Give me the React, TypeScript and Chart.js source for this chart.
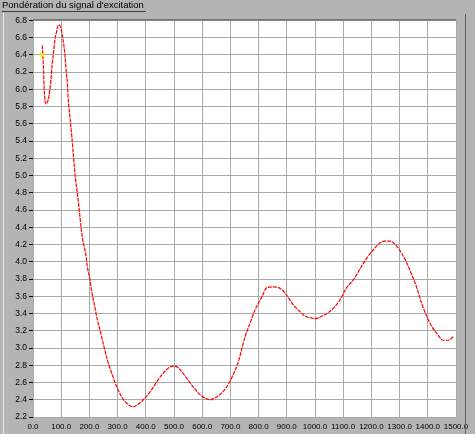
import { useEffect, useRef } from "react";
import { Chart, registerables } from "chart.js";

Chart.register(...registerables);

const TITLE = "Pondération du signal d'excitation";

// sample positions (x axis) and weighting values
const xs = [
  33, 37, 40, 46, 56, 63, 68, 73, 77, 83, 91, 100, 104, 109, 114, 118, 122, 125,
  130, 137, 143, 151, 157, 164, 170, 176, 186, 193, 202, 209, 219, 228, 240, 252,
  264, 279, 297, 315, 332, 344, 357, 370, 391, 415, 439, 462, 486, 504, 521, 545,
  568, 592, 616, 628, 639, 663, 687, 710, 728, 752, 770, 787, 811, 829, 852, 882,
  900, 923, 947, 971, 988, 1000, 1012, 1042, 1065, 1089, 1112, 1136, 1160, 1183,
  1207, 1231, 1248, 1266, 1290, 1307, 1325, 1343, 1361, 1378, 1396, 1414, 1432,
  1455, 1473, 1490,
];
const ys = [
  6.51, 6.25, 5.98, 5.83, 5.91, 6.09, 6.29, 6.43, 6.56, 6.66, 6.75, 6.7, 6.62,
  6.52, 6.37, 6.2, 6.06, 5.88, 5.71, 5.48, 5.24, 4.95, 4.8, 4.6, 4.41, 4.26, 4.11,
  3.94, 3.79, 3.64, 3.48, 3.33, 3.18, 3.01, 2.86, 2.71, 2.55, 2.43, 2.36, 2.33,
  2.32, 2.34, 2.4, 2.49, 2.61, 2.71, 2.78, 2.79, 2.75, 2.65, 2.55, 2.46, 2.41,
  2.4, 2.41, 2.46, 2.55, 2.69, 2.84, 3.13, 3.29, 3.44, 3.59, 3.7, 3.71, 3.68,
  3.61, 3.5, 3.42, 3.36, 3.35, 3.34, 3.35, 3.4, 3.46, 3.56, 3.7, 3.79, 3.92, 4.04,
  4.14, 4.22, 4.24, 4.24, 4.18, 4.1, 3.99, 3.85, 3.7, 3.52, 3.37, 3.25, 3.17,
  3.09, 3.09, 3.13,
];

// yellow cursor marker
const cursorX = [34];
const cursorY = [6.4];

const X_MIN = 0;
const X_MAX = 1500;
const X_STEP = 100;
const Y_MIN = 2.2;
const Y_MAX = 6.8;
const Y_STEP = 0.2;

const FONT = "'Liberation Sans', Arial, sans-serif";

const panelPlugin = {
  id: "panel",
  beforeDraw(chart: Chart) {
    const { ctx, chartArea, width, height } = chart;
    ctx.save();
    ctx.fillStyle = "#b4b4b4";
    ctx.fillRect(0, 0, width, height);
    ctx.fillStyle = "#ffffff";
    ctx.fillRect(
      chartArea.left,
      chartArea.top,
      chartArea.right - chartArea.left,
      chartArea.bottom - chartArea.top
    );
    ctx.restore();
  },
  afterDraw(chart: Chart) {
    const { ctx, chartArea, height } = chart;
    ctx.save();
    // title underline
    ctx.font = `9.5px ${FONT}`;
    const w = ctx.measureText(TITLE).width;
    ctx.strokeStyle = "#3c3c3c";
    ctx.lineWidth = 1;
    ctx.beginPath();
    ctx.moveTo(2, 11.5);
    ctx.lineTo(4 + w, 11.5);
    ctx.stroke();
    // light frame line on the left
    ctx.strokeStyle = "#e8e8e8";
    ctx.beginPath();
    ctx.moveTo(3.5, 13);
    ctx.lineTo(3.5, height);
    ctx.stroke();
    // dark top edge of the plot
    ctx.strokeStyle = "#505050";
    ctx.beginPath();
    ctx.moveTo(chartArea.left, chartArea.top - 0.5);
    ctx.lineTo(chartArea.right, chartArea.top - 0.5);
    ctx.stroke();
    // dark frame line on the right
    ctx.strokeStyle = "#606060";
    ctx.beginPath();
    ctx.moveTo(465.5, 14);
    ctx.lineTo(465.5, height);
    ctx.stroke();
    ctx.restore();
  },
};

export default function App() {
  const canvasRef = useRef<HTMLCanvasElement>(null);
  const chartRef = useRef<Chart | null>(null);

  useEffect(() => {
    if (!canvasRef.current) return;
    if (chartRef.current) chartRef.current.destroy();

    chartRef.current = new Chart(canvasRef.current, {
      type: "line",
      data: {
        datasets: [
          {
            label: "Pondération",
            data: xs.map((x, i) => ({ x, y: ys[i] })),
            borderColor: "#ff0000",
            borderWidth: 1.2,
            borderDash: [4, 1],
            pointRadius: 0,
            cubicInterpolationMode: "monotone",
            fill: false,
            order: 2,
          },
          {
            label: "Curseur",
            data: cursorX.map((x, i) => ({ x, y: cursorY[i] })),
            showLine: false,
            pointStyle: "crossRot",
            pointRadius: 3,
            borderColor: "#ffff00",
            borderWidth: 1.5,
            order: 1,
          },
        ],
      },
      options: {
        animation: false,
        responsive: true,
        maintainAspectRatio: false,
        layout: { padding: { left: 2, right: 19, top: 0, bottom: 0 } },
        plugins: {
          legend: { display: false },
          tooltip: { enabled: false },
          title: {
            display: true,
            text: TITLE,
            align: "start",
            color: "#000",
            font: { family: FONT, size: 9.5, weight: "normal", lineHeight: 1.2 },
            padding: { top: 0, bottom: 9 },
          },
        },
        scales: {
          x: {
            type: "linear",
            min: X_MIN,
            max: X_MAX,
            border: { display: false },
            grid: { color: "#a9a9a9", drawTicks: false },
            ticks: {
              stepSize: X_STEP,
              autoSkip: false,
              maxRotation: 0,
              padding: 5,
              color: "#000",
              font: { family: FONT, size: 8 },
              callback: (v) => Number(v).toFixed(1),
            },
            afterFit: (scale) => {
              scale.height = 17;
            },
          },
          y: {
            type: "linear",
            min: Y_MIN,
            max: Y_MAX,
            border: { display: false },
            grid: { color: "#a9a9a9", tickColor: "#000", tickLength: 4 },
            ticks: {
              stepSize: Y_STEP,
              autoSkip: false,
              padding: 2,
              color: "#000",
              font: { family: FONT, size: 8.5 },
              callback: (v) => Number(v).toFixed(1),
            },
            afterFit: (scale) => {
              scale.width = 31;
            },
          },
        },
      },
      plugins: [panelPlugin],
    });

    return () => {
      chartRef.current?.destroy();
      chartRef.current = null;
    };
  }, []);

  return (
    <div style={{ position: "absolute", left: 0, top: 0, width: 475, height: 434 }}>
      <canvas ref={canvasRef} />
    </div>
  );
}
